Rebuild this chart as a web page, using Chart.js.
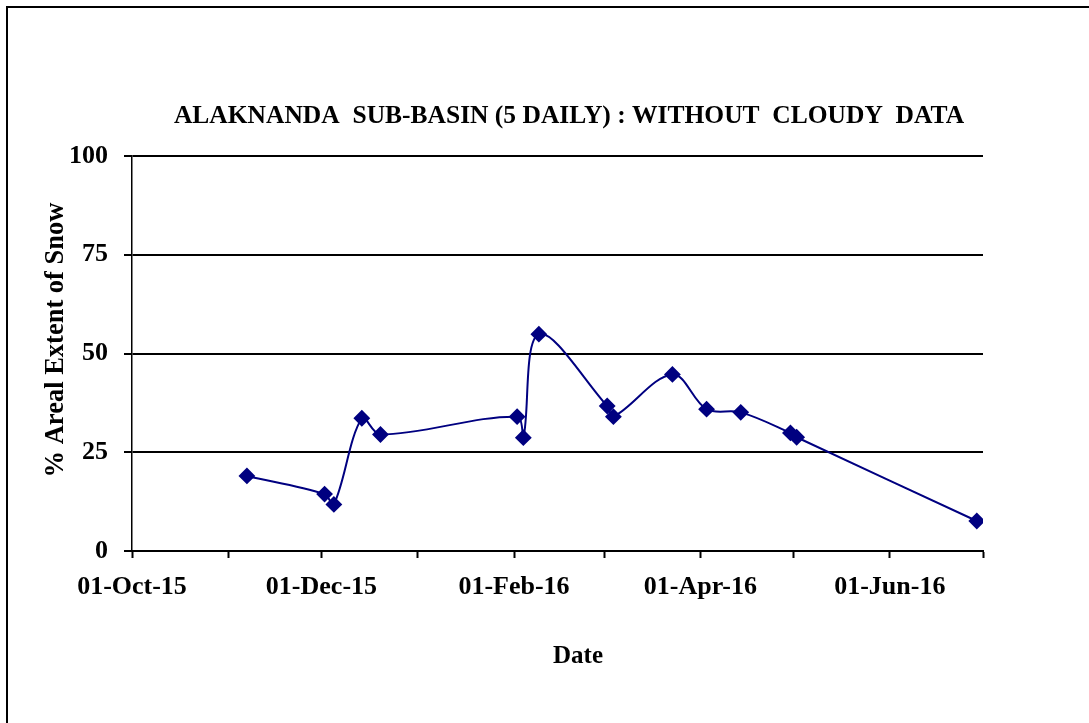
<!DOCTYPE html>
<html>
<head>
<meta charset="utf-8">
<script src="https://cdn.jsdelivr.net/npm/chart.js@4.4.0/dist/chart.umd.min.js"></script>
<style>
  body { margin: 0; overflow: hidden; background: #fff; }
  #frame { position: absolute; left: 6px; top: 6px; width: 1200px; height: 800px; border: 2px solid #000; }
  #myChart { position: absolute; left: 0; top: 0; }
</style>
</head>
<body>
<div id="frame"></div>
<canvas id="myChart" width="1089" height="723"></canvas>
<script>
const startDate = "2015-10-01";
const dates = ["2015-11-07", "2015-12-02", "2015-12-05", "2015-12-14", "2015-12-20", "2016-02-02", "2016-02-04", "2016-02-09",
  "2016-03-02", "2016-03-04", "2016-03-23", "2016-04-03", "2016-04-14", "2016-04-30", "2016-05-02", "2016-06-29"];
const snowCover = [19.0, 14.4, 11.8, 33.6, 29.5, 34.0, 28.7, 54.9, 36.7, 34.0, 44.7, 35.9, 35.1, 29.9, 28.8, 7.6];

// month starts, counted in days from 01-Oct-15
const tickDays = [0, 31, 61, 92, 123, 152, 183, 213, 244, 274];
const tickLabels = ["01-Oct-15", "", "01-Dec-15", "", "01-Feb-16", "", "01-Apr-16", "", "01-Jun-16", ""];

const chartTitle = "ALAKNANDA  SUB-BASIN (5 DAILY) : WITHOUT  CLOUDY  DATA";
const xTitle = "Date";
const yTitle = "% Areal Extent of Snow";

function dayNumber(d) {
  return (Date.parse(d) - Date.parse(startDate)) / 86400000;
}

const points = dates.map(function (d, i) {
  return { x: dayNumber(d), y: snowCover[i] };
});

const font = { family: "'Liberation Serif', 'Times New Roman', serif", size: 26, weight: "bold" };

const textPlugin = {
  id: "textLabels",
  afterDraw(chart) {
    const ctx = chart.ctx;
    ctx.save();
    ctx.fillStyle = "#000";
    ctx.textAlign = "center";
    ctx.textBaseline = "middle";
    ctx.font = "bold 25.5px 'Liberation Serif'";
    ctx.fillText(chartTitle, 569, 116);
    ctx.font = "bold 25px 'Liberation Serif'";
    ctx.fillText(xTitle, 578, 657);
    ctx.font = "bold 26.5px 'Liberation Serif'";
    ctx.translate(56, 340);
    ctx.rotate(-Math.PI / 2);
    ctx.fillText(yTitle, 0, 0);
    ctx.restore();
  },
};

const ctx = document.getElementById("myChart").getContext("2d");
const myChart = new Chart(ctx, {
  type: "line",
  data: {
    datasets: [
      {
        label: "Snow cover",
        data: points,
        borderColor: "#000080",
        backgroundColor: "#000080",
        borderWidth: 2,
        tension: 0.35,
        pointStyle: "rectRot",
        pointRadius: 7,
        pointHoverRadius: 7,
      },
    ],
  },
  options: {
    responsive: false,
    animation: false,
    layout: { padding: { top: 156, right: 106, left: 0, bottom: 0 } },
    plugins: { legend: { display: false }, tooltip: { enabled: false } },
    scales: {
      x: {
        type: "linear",
        min: 0,
        max: 274,
        afterBuildTicks: function (scale) {
          scale.ticks = tickDays.map(function (v) { return { value: v }; });
        },
        afterFit: function (scale) { scale.height = 172; },
        ticks: {
          autoSkip: false,
          maxRotation: 0,
          padding: 14,
          color: "#000",
          font: font,
          callback: function (value) {
            return tickLabels[tickDays.indexOf(value)];
          },
        },
        grid: { drawOnChartArea: false, drawTicks: true, tickLength: 7, tickColor: "#000", tickWidth: 2 },
        border: { color: "#000", width: 2 },
      },
      y: {
        min: 0,
        max: 100,
        afterFit: function (scale) { scale.width = 132; },
        ticks: { stepSize: 25, padding: 16, color: "#000", font: font },
        grid: { color: "#000", lineWidth: 2, tickLength: 8 },
        border: { color: "#000", width: 1.5 },
      },
    },
  },
  plugins: [textPlugin],
});
</script>
</body>
</html>
